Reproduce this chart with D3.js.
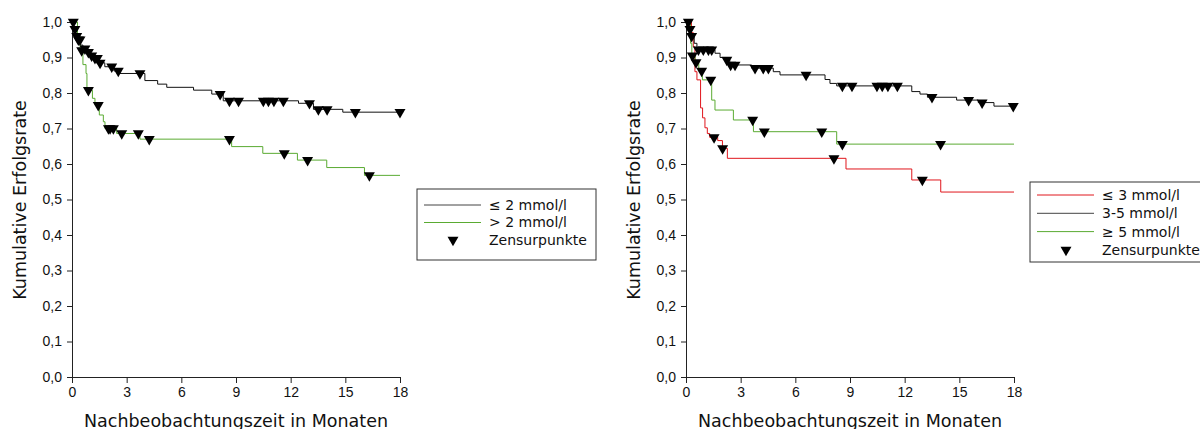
<!DOCTYPE html>
<meta charset="utf-8">
<style>
body { margin: 0; background: #fff; }
svg { font-family: "DejaVu Sans", sans-serif; }
.line { fill: none; stroke-width: 1px; }
.axis path, .axis line { stroke: #222; }
.axis text { font-size: 14px; fill: #111; }
.title { font-size: 17.5px; fill: #111; }
.legend text { font-size: 14px; fill: #111; }
</style>
<body>
<script src="https://d3js.org/d3.v7.min.js"></script>
<script>

// ---- data ----
var xTicks = [0, 3, 6, 9, 12, 15, 18];
var yTicks = [0, 0.1, 0.2, 0.3, 0.4, 0.5, 0.6, 0.7, 0.8, 0.9, 1.0];

// left panel: <= 2 mmol/l
var lowTime = [0, 0.1, 0.2, 0.3, 0.45, 0.6, 0.8, 1.0, 1.2, 1.5, 1.8, 2.3, 2.6, 4.0, 4.7, 5.2, 6.67, 7.67, 8.3, 12.43, 13.25, 14.86, 18];
var lowSurv = [1.0, 0.98, 0.96, 0.95, 0.935, 0.925, 0.915, 0.905, 0.898, 0.885, 0.874, 0.862, 0.855, 0.835, 0.825, 0.816, 0.808, 0.797, 0.778, 0.771, 0.754, 0.746, 0.746];
var lowCens = [0.07, 0.16, 0.26, 0.35, 0.44, 0.71, 0.9, 1.08, 1.26, 1.39, 1.54, 2.18, 2.54, 3.73, 8.13, 8.64, 9.14, 10.5, 10.78, 11.08, 11.6, 13.03, 13.52, 14.0, 15.55, 18.0];

// left panel: > 2 mmol/l
var highTime = [0, 0.3, 0.45, 0.6, 0.77, 0.82, 1.12, 1.26, 1.5, 1.72, 1.81, 2.45, 3.73, 8.76, 10.47, 12.37, 13.98, 16.05, 18];
var highSurv = [1.0, 0.96, 0.92, 0.88, 0.855, 0.808, 0.785, 0.766, 0.738, 0.719, 0.70, 0.686, 0.670, 0.649, 0.630, 0.611, 0.590, 0.568, 0.568];
var highCens = [0.53, 0.9, 1.44, 2.0, 2.09, 2.27, 2.73, 3.64, 4.24, 8.64, 11.65, 12.93, 16.32];

// right panel: <= 3 mmol/l
var redTime = [0, 0.3, 0.4, 0.49, 0.6, 0.8, 0.91, 1.04, 1.17, 1.3, 1.74, 2.0, 2.27, 8.78, 12.39, 13.98, 18];
var redSurv = [1.0, 0.97, 0.93, 0.86, 0.837, 0.758, 0.73, 0.702, 0.686, 0.675, 0.666, 0.644, 0.616, 0.586, 0.555, 0.521, 0.521];
var redCens = [1.54, 2.01, 8.12, 12.97];

// right panel: 3-5 mmol/l
var midTime = [0, 0.15, 0.3, 0.45, 0.6, 1.59, 1.87, 2.1, 2.4, 3.6, 4.79, 5.16, 7.63, 7.9, 8.27, 12.39, 12.84, 13.25, 14.85, 16.04, 16.9, 18];
var midSurv = [1.0, 0.98, 0.96, 0.94, 0.922, 0.912, 0.90, 0.893, 0.879, 0.87, 0.86, 0.851, 0.838, 0.827, 0.82, 0.804, 0.797, 0.788, 0.78, 0.773, 0.763, 0.763];
var midCens = [0.13, 0.22, 0.31, 0.68, 0.95, 1.23, 1.41, 2.24, 2.45, 2.69, 3.79, 4.24, 4.52, 6.59, 8.58, 9.11, 10.48, 10.77, 11.08, 11.6, 13.5, 15.51, 16.25, 17.96];

// right panel: >= 5 mmol/l
var grnTime = [0, 0.25, 0.32, 0.5, 0.7, 0.9, 1.41, 1.59, 2.6, 3.7, 8.27, 18];
var grnSurv = [1.0, 0.94, 0.905, 0.886, 0.862, 0.837, 0.78, 0.752, 0.724, 0.691, 0.656, 0.656];
var grnCens = [0.35, 0.55, 0.86, 1.36, 3.66, 4.3, 7.45, 8.58, 13.97];

var BLACK = "#111", GREEN = "#5aab32", RED = "#e0161c";

// ---- layout ----
var W = 1200, H = 429;
var svg = d3.select("body").append("svg").attr("width", W).attr("height", H);

var fmt = function(d) { return d3.format(".1f")(d).replace(".", ","); };

function survAt(times, surv, t) {
  var v = surv[0];
  for (var i = 0; i < times.length; i++) { if (times[i] <= t) v = surv[i]; }
  return v;
}

function panel(left, series, legend) {
  var x = d3.scaleLinear().domain([0, 18]).range([left, left + 328]);
  var y = d3.scaleLinear().domain([0, 1]).range([377, 22]);

  svg.append("g").attr("class", "axis")
      .attr("transform", "translate(0,377)")
      .call(d3.axisBottom(x).tickValues(xTicks).tickSizeOuter(0).tickSize(6).tickPadding(4));
  svg.append("g").attr("class", "axis")
      .attr("transform", "translate(" + left + ",0)")
      .call(d3.axisLeft(y).tickValues(yTicks).tickFormat(fmt).tickSizeOuter(0).tickSize(5).tickPadding(5));

  svg.append("text").attr("class", "title")
      .attr("x", left + 164).attr("y", 427).attr("text-anchor", "middle")
      .text("Nachbeobachtungszeit in Monaten");
  svg.append("text").attr("class", "title")
      .attr("transform", "translate(" + (left - 46) + ",200) rotate(-90)")
      .attr("text-anchor", "middle")
      .text("Kumulative Erfolgsrate");

  var line = d3.line()
      .x(function(d) { return x(d[0]); })
      .y(function(d) { return y(d[1]); })
      .curve(d3.curveStepAfter);

  var tri = d3.symbol().type(d3.symbolTriangle).size(52);

  series.forEach(function(s) {
    svg.append("path")
        .datum(d3.zip(s.time, s.surv))
        .attr("class", "line")
        .style("stroke", s.color)
        .attr("d", line);
  });
  series.forEach(function(s) {
    svg.append("g").selectAll("path")
      .data(s.cens)
      .join("path")
        .attr("d", tri)
        .attr("fill", "#000")
        .attr("transform", function(t) {
          return "translate(" + x(t) + "," + y(survAt(s.time, s.surv, t)) + ") rotate(180)";
        });
  });

  // legend
  var lg = svg.append("g").attr("class", "legend")
      .attr("transform", "translate(" + legend.x + "," + legend.y + ")");
  lg.append("rect").attr("width", legend.w).attr("height", legend.h)
      .attr("fill", "#fff").attr("stroke", "#333");
  var items = series.map(function(s) { return { label: s.label, color: s.color }; });
  items.push({ label: "Zensurpunkte", color: null });
  items.forEach(function(it, i) {
    var cy = legend.top + i * legend.step;
    if (it.color) {
      lg.append("line").attr("x1", 7).attr("x2", 64).attr("y1", cy).attr("y2", cy)
          .attr("stroke", it.color === BLACK ? "#444" : it.color);
    } else {
      lg.append("path").attr("d", tri).attr("fill", "#000")
          .attr("transform", "translate(36," + cy + ") rotate(180)");
    }
    lg.append("text").attr("x", 72).attr("y", cy).attr("dy", "0.35em").text(it.label);
  });
}

panel(72, [
  { time: lowTime, surv: lowSurv, cens: lowCens, color: BLACK, label: "\u2264 2 mmol/l" },
  { time: highTime, surv: highSurv, cens: highCens, color: GREEN, label: "> 2 mmol/l" }
], { x: 417, y: 189, w: 179, h: 71, top: 16, step: 17.5 });

panel(686, [
  { time: redTime, surv: redSurv, cens: redCens, color: RED, label: "\u2264 3 mmol/l" },
  { time: midTime, surv: midSurv, cens: midCens, color: BLACK, label: "3-5 mmol/l" },
  { time: grnTime, surv: grnSurv, cens: grnCens, color: GREEN, label: "\u2265 5 mmol/l" }
], { x: 1030, y: 182, w: 190, h: 80, top: 13, step: 18.3 });

</script>
</body>
